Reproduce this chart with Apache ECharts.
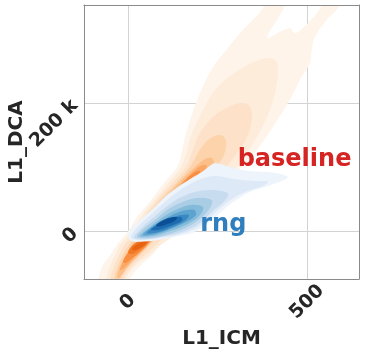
<!DOCTYPE html>
<html>
<head>
<meta charset="utf-8">
<script src="https://cdn.jsdelivr.net/npm/echarts@6/dist/echarts.min.js"></script>
<style>
  html, body { margin: 0; padding: 0; background: #fff; }
  #chart { width: 366px; height: 358px; }
</style>
</head>
<body>
<div id="chart"></div>
<script>
// KDE contour levels, outermost first.
// x = L1_ICM, y = L1_DCA in thousands
const baselineLevels = [
  [[-100,-108],[-84,-75],[-70,-53],[-50,-38],[-28,-19],[-3,-3],[25,22],[64,48],[100,75],[137,100],[151,127],[162,153],[193,205],[237,256],[279,286],[312,309],[354,333],[382,353],[391,369],[446,369],[435,348],[388,302],[424,311],[452,317],[466,309],[488,317],[530,342],[558,369],[605,369],[586,348],[555,330],[522,303],[513,283],[508,262],[485,241],[452,205],[405,163],[360,127],[318,100],[271,72],[215,41],[145,5],[103,-14],[67,-38],[33,-55],[3,-77],[-11,-108]],
  [[-61,-108],[-61,-75],[-50,-55],[-36,-37.5],[-20,-20],[8,-3],[36,22],[73,48],[112,75],[148,100],[165,127],[179,153],[209,189],[243,220],[290,244],[340,261],[382,270],[410,267],[419,252],[413,223],[396,189],[363,150],[318,111],[279,83],[229,52],[179,20],[131,-6],[89,-23],[56,-39],[22,-53],[-6,-75],[-17,-108]],
  [[-50,-108],[-50,-75],[-39,-55],[-25,-37.5],[-8,-20],[17,-3],[45,22],[81,48],[123,75],[162,100],[181,127],[201,153],[243,181],[285,195],[318,200],[340,195],[346,180],[335,150],[301,119],[262,92],[215,61],[167,30],[123,2],[81,-20],[50,-36],[14,-53],[-14,-75],[-28,-108]],
  [[-39,-92],[-39,-75],[-28,-55],[-14,-37.5],[3,-22],[25,-3],[53,22],[89,48],[134,75],[173,100],[201,127],[229,145],[257,150],[273,142],[268,119],[240,95],[201,70],[156,41],[112,11],[73,-14],[42,-33],[8,-52],[-22,-75],[-28,-92]],
  [[-31,-73],[-22,-55],[-6,-37.5],[11,-22],[33,-3],[61,22],[98,48],[142,75],[187,100],[215,112.5],[234,114],[240,106],[223,87.5],[187,64],[145,37.5],[103,8],[67,-16],[33,-36],[0,-55],[-22,-72]],
  [[-22,-61],[-14,-48],[0,-36],[20,-22],[42,-3],[70,22],[106,48],[151,75],[190,97],[209,103],[220,102],[215,92],[187,73],[145,47],[103,17],[70,-8],[42,-28],[11,-45],[-11,-58]],
  [[-14,-48],[-3,-36],[14,-25],[33,-11],[61,11],[95,36],[131,62.5],[162,81],[184,91],[201,94],[195,86],[167,70],[128,45],[95,20],[70,-3],[53,-22],[31,-34],[8,-44],[-8,-50]],
  [[0,-34],[8,-25],[25,-17],[47,-9],[70,-3],[67,-12.5],[50,-22],[31,-30],[11,-36]],
  [[11,-28],[22,-22],[39,-17],[56,-14],[50,-20],[33,-27],[17,-30]]
];

const rngLevels = [
  [[0,-9],[8,3],[28,14],[67,33],[103,53],[140,69],[179,83],[206,92],[229,102],[246,106],[285,100],[332,94],[388,92],[424,89],[446,84],[424,77],[388,70],[340,61],[301,48],[262,31],[229,14],[201,3],[179,-3],[131,-9],[84,-14],[33,-17],[11,-16]],
  [[8,-11],[20,2],[47,17],[84,36],[123,55],[162,70],[201,81],[243,86],[299,81],[354,78],[391,77],[374,70],[326,61],[285,48],[246,30],[215,14],[187,3],[145,-5],[89,-11],[39,-14]],
  [[17,-11],[33,2],[67,19],[106,37.5],[145,52],[187,61],[234,64],[279,59],[271,48],[234,30],[201,12.5],[159,0],[103,-8],[56,-12.5]],
  [[25,-9],[47,5],[81,20],[117,36],[159,47],[201,52],[234,48],[229,36],[201,19],[162,5],[112,-5],[61,-11]],
  [[33,-8],[61,6],[98,22],[137,34],[179,41],[209,37.5],[201,25],[167,11],[117,0],[67,-8]],
  [[42,-6],[70,8],[106,20],[145,30],[184,33],[190,25],[162,14],[117,3],[75,-5]],
  [[53,-3],[78,9],[112,19],[148,25],[170,25],[159,16],[123,6],[84,-2]],
  [[64,2],[86,11],[117,18],[148,22],[151,16],[120,8],[89,2]],
  [[78,9],[95,16],[120,21],[137,21],[131,16],[106,10],[86,7]]
];

const baselineColors = ['#fef4ea', '#feecda', '#fde1c8', '#fdd3ac', '#fdbf8a', '#fda764', '#f98e40', '#f37826', '#e66211'];
const rngColors = ['#edf4fb', '#dde9f6', '#c8dcef', '#a9cde5', '#84bbdb', '#5ca3d0', '#3a88c1', '#1e6cb0', '#0b4f96'];

const groupNames = ['baseline', 'rng'];
const groupLabelAt = [[465, 111], [266, 10]];
const groupLabelColors = ['#d52422', '#2f7ebd'];

const xTicks = [0, 500];
const yTicks = [0, 200];

const chart = echarts.init(document.getElementById('chart'));

function levelSeries(name, levels, colors) {
  return {
    type: 'custom',
    name: name,
    clip: true,
    silent: true,
    xAxisIndex: 0,
    yAxisIndex: 0,
    data: levels.map((poly, i) => [poly[0][0], poly[0][1], i]),
    encode: { x: 0, y: 1 },
    renderItem: (params, api) => {
      const poly = levels[params.dataIndex];
      return {
        type: 'polygon',
        shape: { points: poly.map(p => api.coord(p)), smooth: 0.35 },
        style: { fill: colors[params.dataIndex] }
      };
    }
  };
}

const font = 'DejaVu Sans';
const ink = '#262626';
const frame = { show: true, onZero: false, lineStyle: { color: '#8a8a8a', width: 1 } };
const spineOnly = { axisLabel: { show: false }, axisTick: { show: false }, splitLine: { show: false }, z: 5 };

chart.setOption({
  animation: false,
  grid: { left: 84, right: 7, top: 5, bottom: 79, containLabel: false, outerBoundsMode: 'none' },
  xAxis: [
    {
      type: 'value', min: -123, max: 645,
      name: 'L1_ICM', nameLocation: 'middle', nameGap: 50, nameMoveOverlap: false,
      nameTextStyle: { fontFamily: font, fontWeight: 'bold', fontSize: 20, color: ink },
      axisLine: { show: false },
      axisTick: { show: false, customValues: xTicks },
      axisLabel: {
        customValues: xTicks, rotate: 45, align: 'center', verticalAlign: 'middle', margin: 23,
        fontFamily: font, fontWeight: 'bold', fontSize: 19, color: ink
      },
      splitLine: { show: true, lineStyle: { color: '#d3d3d3', width: 1 } }
    },
    Object.assign({ type: 'value', min: -123, max: 645, position: 'bottom', axisLine: frame }, spineOnly),
    Object.assign({ type: 'value', min: -123, max: 645, position: 'top', axisLine: frame }, spineOnly)
  ],
  yAxis: [
    {
      type: 'value', min: -75, max: 353,
      name: 'L1_DCA', nameLocation: 'middle', nameGap: 57, nameMoveOverlap: false,
      nameTextStyle: { fontFamily: font, fontWeight: 'bold', fontSize: 20, color: ink },
      axisLine: { show: false },
      axisTick: { show: false, customValues: yTicks },
      axisLabel: {
        customValues: yTicks, rotate: 45, margin: 9,
        formatter: v => (v === 0 ? '0' : v + ' k'),
        fontFamily: font, fontWeight: 'bold', fontSize: 19, color: ink
      },
      splitLine: { show: true, lineStyle: { color: '#d3d3d3', width: 1 } }
    },
    Object.assign({ type: 'value', min: -75, max: 353, position: 'left', axisLine: frame }, spineOnly),
    Object.assign({ type: 'value', min: -75, max: 353, position: 'right', axisLine: frame }, spineOnly)
  ],
  series: [
    levelSeries('baseline', baselineLevels, baselineColors),
    levelSeries('rng', rngLevels, rngColors),
    {
      type: 'scatter',
      silent: true,
      symbolSize: 0,
      z: 4,
      itemStyle: { opacity: 1 },
      data: groupNames.map((n, i) => ({ name: n, value: groupLabelAt[i], label: { color: groupLabelColors[i] } })),
      label: {
        show: true, position: 'inside', formatter: '{b}', opacity: 1,
        fontFamily: font, fontWeight: 'bold', fontSize: 24
      }
    }
  ]
});
</script>
</body>
</html>
